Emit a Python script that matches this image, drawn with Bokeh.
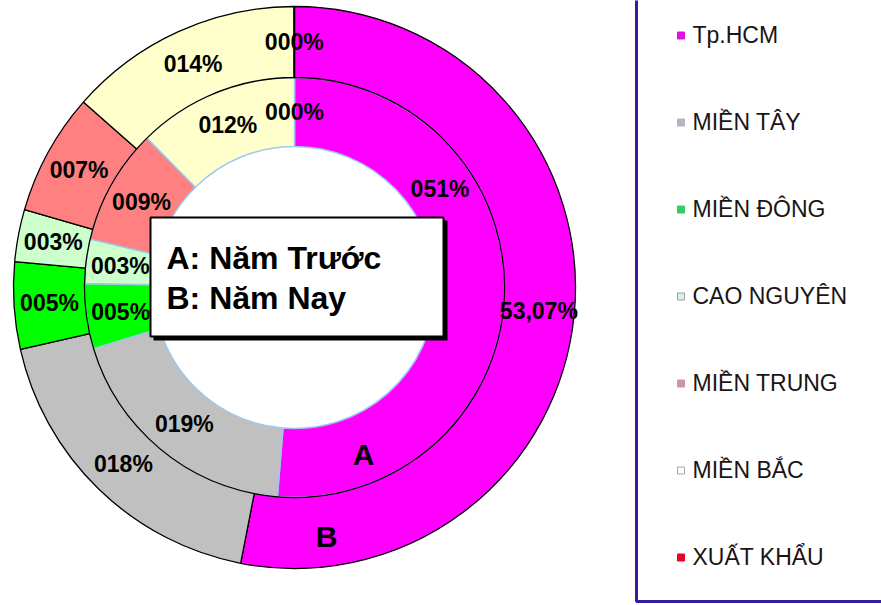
import math
from bokeh.plotting import figure
from bokeh.models import Range1d, ColumnDataSource, Label
from bokeh.embed import file_html
from bokeh.resources import INLINE
from bokeh.core.properties import value

# ---------------- data ----------------
regions = ["Tp.HCM", "MIỀN TÂY", "MIỀN ĐÔNG", "CAO NGUYÊN", "MIỀN TRUNG", "MIỀN BẮC", "XUẤT KHẨU"]
prev_year = [51.3, 19.0, 5.0, 3.4, 8.9, 12.4, 0.0]      # A: Năm Trước (inner ring)
this_year = [53.07, 18.4, 5.0, 3.0, 7.0, 13.5, 0.03]    # B: Năm Nay (outer ring)
prev_labels = ["051%", "019%", "005%", "003%", "009%", "012%", "000%"]
this_labels = ["53,07%", "018%", "005%", "003%", "007%", "014%", "000%"]

# ---------------- style / layout ----------------
slice_colors = ["#FF00FF", "#C0C0C0", "#00FF00", "#CCFFCC", "#FF8080", "#FFFFCC", "#FF0000"]
legend_colors = ["#E010E0", "#B4B4C4", "#30D060", "#D8F0E8", "#C898A8", "#FFFFEE", "#E8002A"]
legend_borders = [None, None, None, "#A0A0A0", None, "#A0A8B8", None]
FONT_NAME = "Liberation Sans"
FONT = value(FONT_NAME)

W, H = 881, 605
def Y(ref_y):  # reference screen y -> data y
    return H - ref_y

CX, CY = 294, Y(287)
R_IN, R_MID, R_OUT = 141, 210, 281
label_angle_override = {("inner", 0): 56.0}   # degrees clockwise from 12 o'clock

p = figure(width=W, height=H, x_range=Range1d(0, W), y_range=Range1d(0, H),
           output_backend="svg", toolbar_location=None, min_border=0,
           x_axis_location=None, y_axis_location=None)
p.grid.visible = False
p.outline_line_color = None
p.background_fill_color = "white"

def ring(values, labels, r0, r1, line_color, line_width, tag):
    total = sum(values)
    cum = 0.0
    xs, ys, starts, ends, cols, names = [], [], [], [], [], []
    lx, ly, lt = [], [], []
    for i, v in enumerate(values):
        a0 = cum / total * 2 * math.pi
        cum += v
        a1 = cum / total * 2 * math.pi
        if v > 0:
            xs.append(CX); ys.append(CY)
            starts.append(math.pi / 2 - a1)
            ends.append(math.pi / 2 - a0)
            cols.append(slice_colors[i]); names.append(regions[i])
        mid = (a0 + a1) / 2
        if (tag, i) in label_angle_override:
            mid = math.radians(label_angle_override[(tag, i)])
        rm = (r0 + r1) / 2
        lx.append(CX + rm * math.sin(mid))
        ly.append(CY + rm * math.cos(mid))
        lt.append(labels[i])
    src = ColumnDataSource(dict(x=xs, y=ys, s=starts, e=ends, c=cols, n=names))
    p.annular_wedge(x="x", y="y", inner_radius=r0, outer_radius=r1, start_angle="s", end_angle="e",
                    fill_color="c", line_color=line_color, line_width=line_width, source=src)
    return ColumnDataSource(dict(x=lx, y=ly, t=lt))

lab_in = ring(prev_year, prev_labels, R_IN, R_MID, "#9CC8F0", 1.5, "inner")
lab_out = ring(this_year, this_labels, R_MID, R_OUT, "#000000", 1.3, "outer")

for src in (lab_in, lab_out):
    p.text(x="x", y="y", text="t", source=src, text_align="center", text_baseline="middle",
           text_font=FONT, text_font_style="bold", text_font_size="23px", text_color="#000000")

# ring identifiers
p.text(x=[363, 326], y=[Y(454), Y(536)], text=["A", "B"], text_align="center", text_baseline="middle",
       text_font=FONT, text_font_style="bold", text_font_size="30px", text_color="#000000")

# A/B explanation box
p.quad(left=[153], right=[447], top=[Y(220)], bottom=[Y(340)], fill_color="#000000", line_color=None)
p.quad(left=[150], right=[443], top=[Y(217)], bottom=[Y(336)], fill_color="white",
       line_color="#000000", line_width=2)
p.add_layout(Label(x=166, y=Y(257), text="A: Năm Trước", text_font=FONT_NAME, text_font_style="bold",
                   text_font_size="32px", text_color="#000000", text_baseline="alphabetic"))
p.add_layout(Label(x=166, y=Y(297), text="B: Năm Nay", text_font=FONT_NAME, text_font_style="bold",
                   text_font_size="32px", text_color="#000000", text_baseline="alphabetic"))

# legend box
p.quad(left=[636], right=[900], top=[Y(-20)], bottom=[Y(601)], fill_color="white",
       line_color="#2E1F9E", line_width=3)
centers = [35 + 87 * i for i in range(len(regions))]
mk = ColumnDataSource(dict(x=[680.5] * len(regions), y=[Y(c) for c in centers], c=legend_colors,
                           lc=[b if b else c for b, c in zip(legend_borders, legend_colors)]))
p.scatter(x="x", y="y", marker="square", size=7, fill_color="c", line_color="lc", line_width=1, source=mk)
p.text(x=[692] * len(regions), y=[Y(c - 1) for c in centers], text=regions, text_align="left",
       text_baseline="alphabetic", text_font=FONT, text_font_size="23px", text_color="#1A1414")

open("out.html", "w").write(file_html(p, INLINE))
